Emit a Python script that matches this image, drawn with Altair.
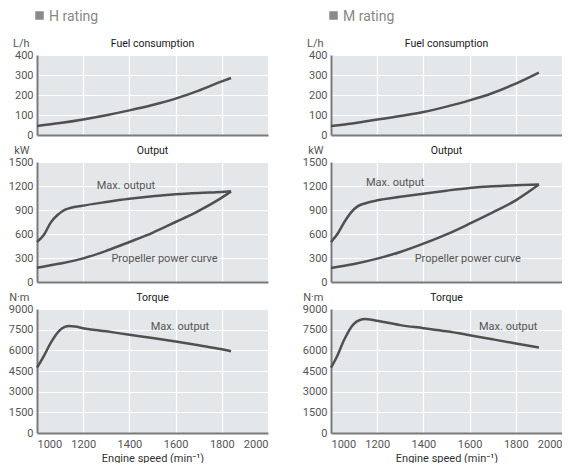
import altair as alt
import pandas as pd

# ---------------- data ----------------
# H rating
fuel_h_speed = [1000, 1100, 1200, 1300, 1400, 1500, 1600, 1700, 1800, 1840]
fuel_h = [45, 60, 78, 99, 123, 150, 182, 222, 268, 285]

maxout_h_speed = [1000, 1030, 1060, 1090, 1110, 1135, 1190, 1300, 1400, 1500, 1600, 1700, 1800, 1840]
maxout_h = [500, 590, 745, 840, 885, 918, 950, 1000, 1040, 1072, 1096, 1113, 1126, 1133]

prop_h_speed = [1000, 1100, 1200, 1300, 1400, 1500, 1600, 1700, 1800, 1840]
prop_h = [178, 230, 295, 390, 500, 615, 750, 890, 1055, 1133]

torque_h_speed = [1000, 1030, 1060, 1095, 1120, 1140, 1165, 1200, 1300, 1400, 1500, 1600, 1700, 1800, 1840]
torque_h = [4740, 5600, 6560, 7400, 7700, 7770, 7730, 7610, 7380, 7125, 6890, 6640, 6370, 6080, 5935]

# M rating
fuel_m_speed = [1000, 1100, 1200, 1300, 1400, 1500, 1600, 1700, 1800, 1900]
fuel_m = [45, 59, 77, 95, 115, 142, 173, 210, 257, 312]

maxout_m_speed = [1000, 1030, 1060, 1090, 1115, 1150, 1200, 1300, 1400, 1500, 1600, 1700, 1800, 1900]
maxout_m = [500, 610, 760, 880, 945, 985, 1021, 1065, 1104, 1142, 1175, 1196, 1208, 1218]

prop_m_speed = [1000, 1100, 1200, 1300, 1400, 1500, 1600, 1700, 1800, 1900]
prop_m = [175, 225, 292, 375, 479, 595, 729, 870, 1021, 1218]

torque_m_speed = [1000, 1030, 1055, 1098, 1125, 1148, 1175, 1200, 1300, 1400, 1500, 1600, 1700, 1800, 1900]
torque_m = [4740, 5700, 6690, 7905, 8200, 8270, 8220, 8145, 7830, 7610, 7380, 7100, 6800, 6500, 6200]

# annotation labels (text, speed, value)
out_labels_h = [("Max. output", 1385, 1200), ("Propeller power curve", 1552, 290)]
out_labels_m = [("Max. output", 1278, 1241), ("Propeller power curve", 1592, 290)]
tq_labels_h = [("Max. output", 1619, 7660)]
tq_labels_m = [("Max. output", 1767, 7660)]

x_ticks = [1000, 1200, 1400, 1600, 1800, 2000]

LINE = "#505050"
FONT = "Roboto"
W = 231


def xenc(show):
    axis = alt.Axis(values=x_ticks, format="d", grid=True, gridColor="white", gridWidth=1.2,
                    ticks=False, domainColor="#7a7a7a", domainWidth=2,
                    labels=show, labelColor="#555", labelFontSize=11, labelFont=FONT,
                    labelPadding=5, title="Engine speed (min⁻¹)" if show else None,
                    titleFont=FONT, titleFontSize=11, titleColor="#333",
                    titleFontWeight="normal", titlePadding=3)
    return alt.X("speed:Q", scale=alt.Scale(domain=[1000, 2000], nice=False), axis=axis)


def yenc(domain, ticks, unit):
    axis = alt.Axis(values=ticks, format="d", grid=True, gridColor="white", gridWidth=1.2,
                    ticks=False, domainColor="#7a7a7a", domainWidth=2,
                    labelColor="#555", labelFontSize=11, labelFont=FONT, labelPadding=4,
                    title=unit, titleAngle=0, titleAlign="right", titleBaseline="alphabetic",
                    titleX=-8, titleY=-9, titleFont=FONT, titleFontSize=11,
                    titleColor="#555", titleFontWeight="normal")
    return alt.Y("val:Q", scale=alt.Scale(domain=domain, nice=False), axis=axis)


def panel(series, labels, domain, ticks, unit, title, height, show_x, header=None):
    rows = []
    for name, sp, vals in series:
        for s, v in zip(sp, vals):
            rows.append({"series": name, "speed": s, "val": v})
    df = pd.DataFrame(rows)
    base = alt.Chart(df).mark_line(color=LINE, strokeWidth=2.5, interpolate="monotone").encode(
        x=xenc(show_x), y=yenc(domain, ticks, unit), detail="series:N")
    layers = [base]
    if labels:
        ldf = pd.DataFrame([{"txt": t, "speed": s, "val": v} for t, s, v in labels])
        layers.append(alt.Chart(ldf).mark_text(font=FONT, fontSize=11, color="#555").encode(
            x=xenc(show_x), y=yenc(domain, ticks, unit), text="txt:N"))
    tdf = pd.DataFrame({"t": [title]})
    layers.append(alt.Chart(tdf).mark_text(font=FONT, fontSize=10.5, fontWeight="normal",
                                           color="#1a1a1a", baseline="alphabetic").encode(
        x=alt.value(W / 2), y=alt.value(-8), text="t:N"))
    if header:
        hdf = pd.DataFrame({"t": [header]})
        layers.append(alt.Chart(hdf).mark_square(color="#8a8a8a", opacity=1, size=72).encode(
            x=alt.value(2.5), y=alt.value(-39.5)))
        layers.append(alt.Chart(hdf).mark_text(font=FONT, fontSize=14, color="#888",
                                               align="left", baseline="alphabetic").encode(
            x=alt.value(12), y=alt.value(-34), text="t:N"))
    return alt.layer(*layers).properties(width=W, height=height)


def column(name, fuel_s, fuel_v, mo_s, mo_v, pr_s, pr_v, tq_s, tq_v, out_lab, tq_lab):
    fuel = panel([("fuel", fuel_s, fuel_v)], None, [0, 400], [0, 100, 200, 300, 400],
                 "L/h", "Fuel consumption", 80, False, header=name)
    out = panel([("max", mo_s, mo_v), ("prop", pr_s, pr_v)], out_lab, [0, 1500],
                [0, 300, 600, 900, 1200, 1500], "kW", "Output", 120, False)
    tq = panel([("tq", tq_s, tq_v)], tq_lab, [0, 9000],
               [0, 1500, 3000, 4500, 6000, 7500, 9000], "N·m", "Torque", 124, True)
    return alt.vconcat(fuel, out, tq, spacing=4)


left = column("H rating", fuel_h_speed, fuel_h, maxout_h_speed, maxout_h, prop_h_speed, prop_h,
              torque_h_speed, torque_h, out_labels_h, tq_labels_h)
right = column("M rating", fuel_m_speed, fuel_m, maxout_m_speed, maxout_m, prop_m_speed, prop_m,
               torque_m_speed, torque_m, out_labels_m, tq_labels_m)

chart = alt.hconcat(left, right, spacing=34).properties(
    background="white", padding={"top": 2, "left": 0, "right": 0, "bottom": 0}
).configure_view(fill="#e3e7e9", stroke=None)

chart.save("out.html", embed_options={"renderer": "svg", "actions": False})
